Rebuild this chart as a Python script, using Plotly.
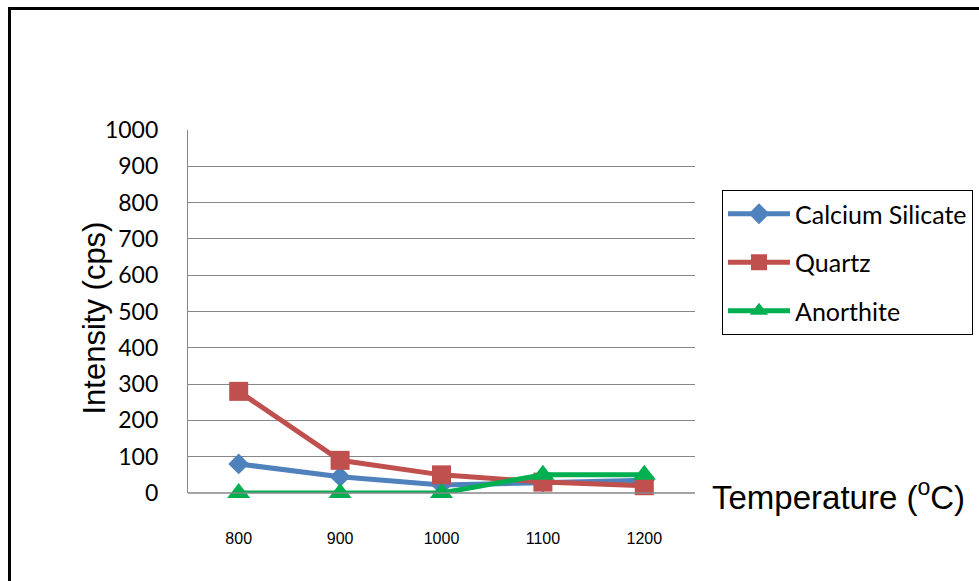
import plotly.graph_objects as go

temperatures = ["800", "900", "1000", "1100", "1200"]
calcium_silicate = [80, 45, 22, 30, 35]
quartz = [280, 90, 50, 30, 20]
anorthite = [0, 0, 0, 50, 50]
y_ticks = list(range(0, 1001, 100))

L, R, T, B = 188, 695, 130, 493
W, H = 979, 581
pw, ph = R - L, B - T

def px(x):
    return (x - L) / pw

def py(y):
    return (B - y) / ph

fig = go.Figure()
series = [
    ("Calcium Silicate", calcium_silicate, "#4F81BD", "diamond", 16),
    ("Quartz", quartz, "#C0504D", "square", 19),
    ("Anorthite", anorthite, "#00B050", "triangle-up", 20),
]
for i, (name, vals, col, sym, sz) in enumerate(series):
    fig.add_trace(go.Scatter(
        x=temperatures, y=vals, name=name, mode="lines+markers",
        line=dict(color=col, width=5),
        marker=dict(color=col, symbol=sym, size=sz),
        cliponaxis=False, legendgroup=name,
    ))

fig.update_layout(
    width=W, height=H,
    margin=dict(l=L, r=W - R, t=T, b=H - B, pad=0, autoexpand=False),
    paper_bgcolor="white", plot_bgcolor="white",
    font=dict(family="Liberation Sans, Arial", color="black"),
    showlegend=True,
    legend=dict(
        x=px(722), y=py(190), xanchor="left", yanchor="top",
        bordercolor="black", borderwidth=1, bgcolor="white",
        font=dict(family="Lato, Carlito, sans-serif", size=25, color="black"),
        traceorder="grouped", tracegroupgap=13,
        itemwidth=62,
    ),
    xaxis=dict(
        type="category", showgrid=False, zeroline=False,
        showline=False, ticks="", ticklabelstandoff=34,
        tickfont=dict(size=16, family="Liberation Sans, Arial"),
        range=[-0.5, 4.5],
    ),
    yaxis=dict(
        range=[0, 1000], tickvals=y_ticks, showgrid=True,
        gridcolor="#878787", gridwidth=1.3, zeroline=False,
        showline=True, linecolor="#878787", linewidth=1.3,
        ticks="", ticklabelstandoff=24,
        tickfont=dict(size=23, family="Lato, Carlito, sans-serif"),
    ),
    shapes=[
        dict(type="line", xref="paper", yref="paper", x0=px(L), x1=px(R), y0=0, y1=0,
             line=dict(color="#878787", width=1.3)),
        dict(type="line", xref="paper", yref="paper", x0=px(8), x1=px(W + 5), y0=py(8.5), y1=py(8.5),
             line=dict(color="black", width=3)),
        dict(type="line", xref="paper", yref="paper", x0=px(9.5), x1=px(9.5), y0=py(7), y1=py(H + 5),
             line=dict(color="black", width=3)),
    ],
    annotations=[
        dict(text="Intensity (cps)", xref="paper", yref="paper", x=px(74), y=py(318),
             textangle=-90, showarrow=False, font=dict(size=31, family="Liberation Sans, Arial")),
        dict(text="Temperature (<sup>o</sup>C)", xref="paper", yref="paper", x=px(710), y=py(495),
             xanchor="left", yanchor="middle", showarrow=False,
             font=dict(size=33, family="Liberation Sans, Arial")),
    ],
)

fig.write_html("out.html", config={"displayModeBar": False},
               post_script="document.body.style.margin='0';document.body.style.padding='0';")
